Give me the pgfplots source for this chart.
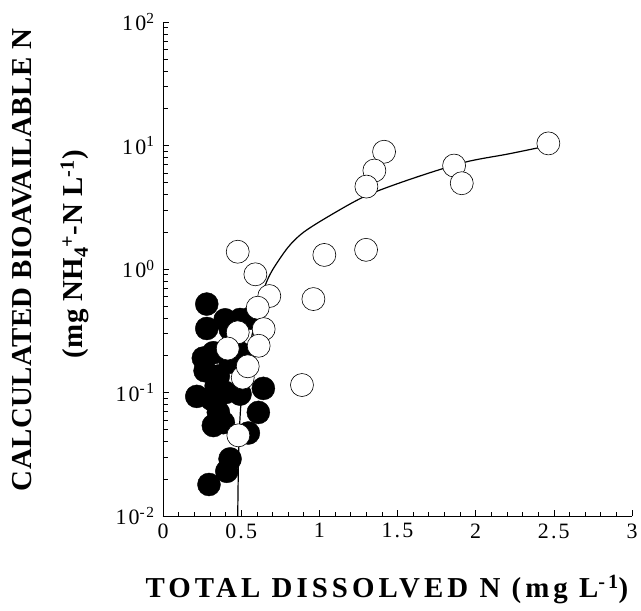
\documentclass[border=0pt]{standalone}
\usepackage{fontspec}
\setmainfont{Liberation Serif}
\newfontfamily\xlblfont[LetterSpace=14]{Liberation Serif}
\newfontfamily\ylblfont[LetterSpace=1.5]{Liberation Serif}
\newfontfamily\tickfont[LetterSpace=10]{Liberation Serif}
\newcommand\tfs{\tickfont\fontsize{22}{25}\selectfont}
\usepackage{pgfplots}
\pgfplotsset{compat=1.18}

\begin{document}
\begin{tikzpicture}
\path[use as bounding box] (-163bp,-95bp) rectangle (478bp,516bp);
\begin{axis}[
    scale only axis,
    width=469bp, height=494bp,
    ymode=log,
    xmin=0, xmax=3,
    ymin=0.01, ymax=100,
    axis x line*=bottom,
    axis y line*=left,
    axis line style={line width=0.8bp, -},
    xtick={0,0.5,...,3},
    xticklabels={{\tfs 0},{\tfs 0.5},{\tfs 1},{\tfs 1.5},{\tfs 2},{\tfs 2.5},{\tfs 3}},
    minor x tick num=4,
    ytick={0.01,0.1,1,10,100},
    yticklabels={{\tfs 10\textsuperscript{-2}},{\tfs 10\textsuperscript{-1}},{\tfs 10\textsuperscript{0}},{\tfs 10\textsuperscript{1}},{\tfs 10\textsuperscript{2}}},
    tick align=inside,
    major tick length=6bp,
    minor tick length=4.5bp,
    tick style={line width=0.6bp, black},
    xticklabel style={yshift=-4bp},
    yticklabel style={xshift=-5bp},
    clip=false,
]
% fitted curve
\addplot[black, line width=1.2bp, smooth] coordinates {
    (0.478,0.01) (0.481,0.02) (0.486,0.04) (0.495,0.07) (0.51,0.12)
    (0.54,0.2) (0.58,0.33) (0.62,0.5) (0.653,0.73) (0.70,0.98)
    (0.80,1.5) (0.898,1.98) (1.068,2.71) (1.301,3.93) (1.602,5.44)
    (1.932,7.33) (2.2,8.5) (2.401,9.58) (2.45,9.85)
};
% filled circles
\addplot[only marks, mark=*, mark size=11.5bp, mark options={fill=black, draw=black}] coordinates {
    (0.280,0.52) (0.280,0.33) (0.397,0.388) (0.493,0.39) (0.43,0.326)
    (0.56,0.40) (0.258,0.19) (0.322,0.21) (0.49,0.21) (0.43,0.176)
    (0.269,0.15) (0.354,0.136) (0.34,0.113) (0.40,0.10) (0.216,0.093)
    (0.311,0.088) (0.493,0.097) (0.642,0.108) (0.610,0.069) (0.322,0.054)
    (0.386,0.057) (0.354,0.069) (0.546,0.047) (0.429,0.029) (0.408,0.023)
    (0.294,0.018)
};
% open circles
\addplot[only marks, mark=*, mark size=11.5bp, mark options={fill=white, draw=black, line width=0.6bp}] coordinates {
    (2.465,10.4) (1.414,8.9) (1.352,6.27) (1.301,4.65) (1.862,6.88)
    (1.911,4.95) (1.299,1.43) (1.032,1.30) (0.478,1.38) (0.591,0.906)
    (0.680,0.604) (0.962,0.571) (0.606,0.486) (0.644,0.326) (0.478,0.307)
    (0.612,0.239) (0.414,0.227) (0.510,0.132) (0.542,0.163) (0.889,0.115)
    (0.482,0.045)
};
\end{axis}
\node[rotate=90, font=\ylblfont\bfseries\fontsize{29}{32}\selectfont] at (-141bp,256bp) {CALCULATED BIOAVAILABLE N};
\node[rotate=90, font=\ylblfont\bfseries\fontsize{29}{32}\selectfont] at (-88bp,262bp) {(mg NH\textsubscript{4}\textsuperscript{+}-N L\textsuperscript{-1})};
\node[font=\xlblfont\bfseries\fontsize{29}{32}\selectfont] at (224bp,-74bp) {TOTAL DISSOLVED N (mg L\textsuperscript{-1})};
\end{tikzpicture}
\end{document}
